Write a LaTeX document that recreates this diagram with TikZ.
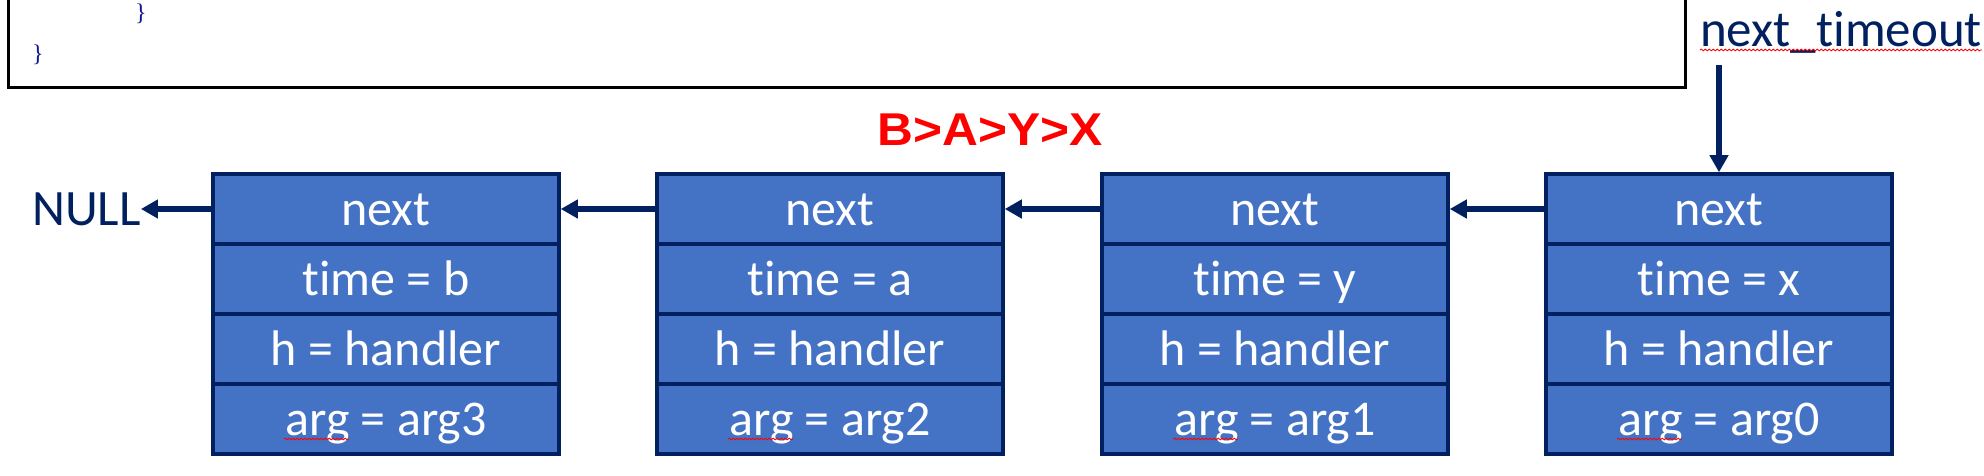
\documentclass[tikz,border=0pt]{standalone}
\usepackage{fontspec}
\setmainfont{Carlito}[RawFeature=-liga]
\newfontfamily\boldsans{Liberation Sans}
\newfontfamily\codefont{Liberation Serif}
\usetikzlibrary{arrows.meta,decorations.pathmorphing}
\definecolor{navy}{RGB}{0,32,96}
\definecolor{cellblue}{RGB}{68,114,196}
\definecolor{codeblue}{RGB}{20,20,150}
\begin{document}
\begin{tikzpicture}[x=1pt,y=1pt,
 cell/.style={draw=navy, line width=3.5pt, fill=cellblue, minimum width=346pt, minimum height=70pt, inner sep=0pt, text=white, font=\fontsize{50}{60}\selectfont, text height=40pt, text depth=6pt},
 link/.style={draw=navy, line width=5.5pt, -{Triangle[length=17pt,width=18pt]}},
 spell/.style={draw=red, line width=0.8pt, decorate, decoration={snake, amplitude=0.9pt, segment length=4pt}},
 brace/.style={text=codeblue, font=\codefont\fontsize{24}{28}\selectfont, inner sep=0pt},
 lbl/.style={text=navy, font=\fontsize{51}{60}\selectfont, inner sep=0pt}
]
\useasboundingbox (0,0) rectangle (1984,476);
% code box (clipped at the top)
\draw[line width=3pt] (8.5,388.5) rectangle (1685,490);
\node[brace] (br1) at (141,462) {\}};
\node[brace] (br2) at (38,421) {\}};
% cells
\foreach \i/\cx/\t/\a in {1/386/b/arg3, 2/830/a/arg2, 3/1275/y/arg1, 4/1719/x/arg0}{
  \node[cell] (b\i n) at (\cx,267) {next};
  \node[cell] (b\i t) at (\cx,197) {time = \t};
  \node[cell] (b\i h) at (\cx,127) {h = handler};
  \node[cell] (b\i a) at (\cx,57) {arg = \a};
  \draw[spell] ([xshift=-102pt,yshift=-3pt]b\i a.base) -- ([xshift=-37pt,yshift=-3pt]b\i a.base);
}
% labels
\node[lbl, anchor=base west] (null) at (32,250) {NULL};
\node[lbl, anchor=base west] (nt) at (1700,429) {next\_timeout};
\draw[spell] ([yshift=-3pt]nt.base west) -- ([yshift=-3pt]nt.base east);
\node[text=red, font=\boldsans\bfseries\fontsize{46}{50}\selectfont, anchor=base, xscale=1.08, inner sep=0pt] (order) at (990,330) {B>A>Y>X};
% links
\coordinate (nttail) at (1719,411);
\draw[link] (nttail) -- (b4n.north);
\draw[link] (b4n.west) -- (b3n.east);
\draw[link] (b3n.west) -- (b2n.east);
\draw[link] (b2n.west) -- (b1n.east);
\draw[link] (b1n.west) -- (b1n.west -| null.east);
\end{tikzpicture}
\end{document}
